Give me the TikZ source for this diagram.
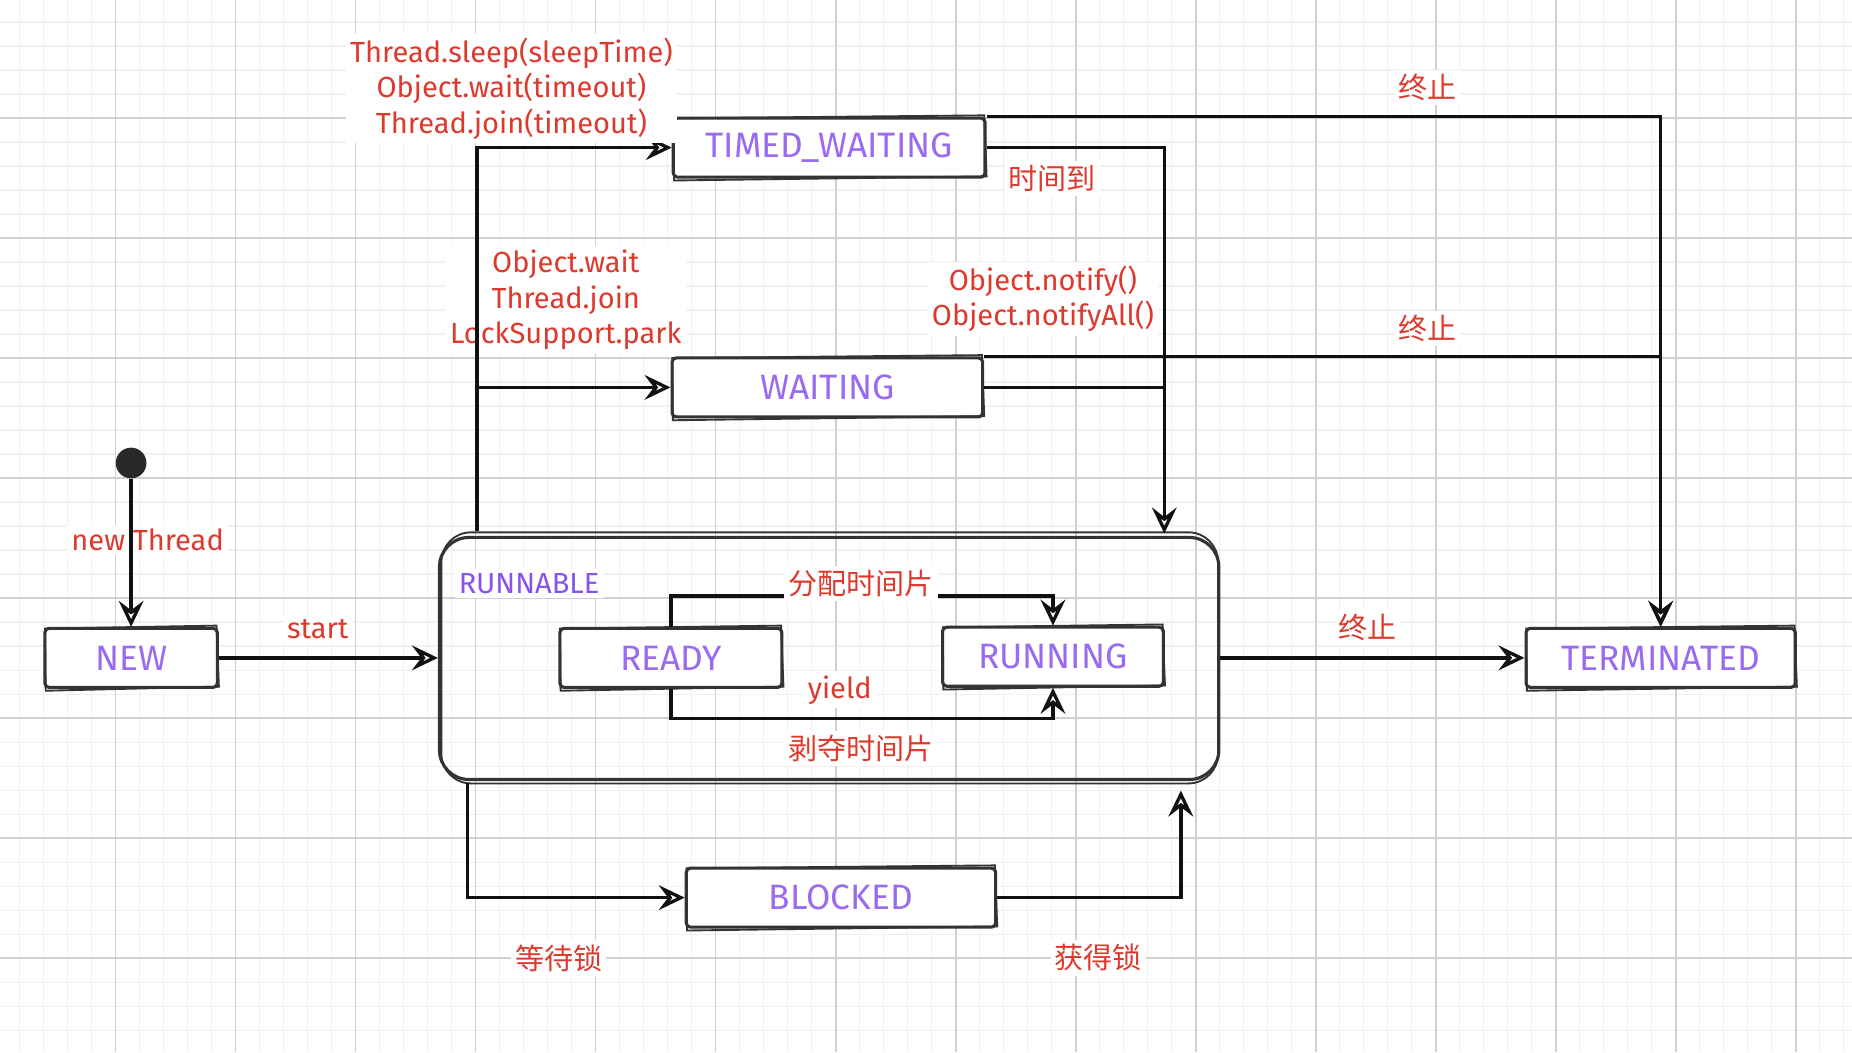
\documentclass[tikz,border=0pt]{standalone}
\usepackage{fontspec}
\setmainfont{Fira Sans}
\newfontfamily\cjk{Noto Sans CJK SC}
\usetikzlibrary{arrows.meta,calc}
\definecolor{redt}{HTML}{DD3A2E}
\definecolor{purp}{HTML}{9A6BF0}
\definecolor{purpd}{HTML}{8752EE}
\definecolor{boxc}{HTML}{333333}
\definecolor{linec}{HTML}{111111}
\definecolor{minorg}{HTML}{F0F0F0}
\definecolor{majorg}{HTML}{D0D0D0}
\newcommand\skbox[1]{\draw[sk] ($(#1.north west)+(1.5,1.5)$) -- ($(#1.north east)+(-2,-1)$) -- ($(#1.south east)+(0,-2)$) -- ($(#1.south west)+(2,1.5)$) -- cycle;}
\begin{document}
\begin{tikzpicture}[x=0.02cm,y=-0.02cm,
  box/.style={draw=boxc, line width=1.5pt, fill=white, inner sep=0pt, minimum height=1cm, text=purp, font=\fontsize{17}{19}\selectfont, rounded corners=2pt},
  lbl/.style={text=redt, fill=white, inner sep=2pt, align=center, font=\fontsize{14}{17}\selectfont},
  zh/.style={text=redt, fill=white, inner sep=2pt, font=\cjk\fontsize{14}{17}\selectfont},
  conn/.style={draw=linec, line width=1.7pt},
  arr/.style={conn, -{Stealth[open,length=4.4mm,width=4.2mm,inset=1.6mm,line width=1.6pt]}},
  sk/.style={draw=boxc, line width=0.9pt},
  gminor/.style={draw=minorg, line width=0.6pt},
  gmajor/.style={draw=majorg, line width=0.7pt}
]
\fill[white] (0,0) rectangle (1568,891);
\useasboundingbox (0,0) rectangle (1568,891);
% grid
\foreach \i in {0,...,78} {\draw[gminor] ({-3.6+20.32*\i},0) -- ({-3.6+20.32*\i},891);}
\foreach \i in {0,...,44} {\draw[gminor] (0,{-1.6+20.32*\i}) -- (1568,{-1.6+20.32*\i});}
\foreach \i in {0,...,16} {\draw[gmajor] ({-3.6+101.6*\i},0) -- ({-3.6+101.6*\i},891);}
\foreach \i in {0,...,9} {\draw[gmajor] (0,{-1.6+101.6*\i}) -- (1568,{-1.6+101.6*\i});}

% RUNNABLE container
\node[draw=boxc, line width=1.5pt, rounded corners=0.5cm, minimum width=13.2cm, minimum height=4.1cm, inner sep=0pt] (run) at (702,557.5) {};
\draw[sk, rounded corners=0.5cm] ($(run.north west)+(3,-3)$) rectangle ($(run.south east)+(-2,2)$);
\node[text=purpd, fill=white, inner sep=2pt, font=\fontsize{14}{16}\selectfont] (runl) at (448,494) {RUNNABLE};

% states
\fill[linec!90] (111,392) circle (13);
\node[circle, minimum size=0.52cm, inner sep=0pt] (dot) at (111,392) {};
\node[box, minimum width=2.92cm] (new) at (111,557) {NEW};
\node[box, minimum width=3.76cm] (ready) at (568,557) {READY};
\node[box, minimum width=3.74cm] (running) at (891.5,556) {RUNNING};
\node[box, minimum width=5.28cm] (tw) at (702,125) {TIMED\_WAITING};
\node[box, minimum width=5.26cm] (w) at (700.5,328) {WAITING};
\node[box, minimum width=4.56cm] (term) at (1406,557) {TERMINATED};
\node[box, minimum width=5.24cm] (blk) at (712,760) {BLOCKED};
\foreach \n in {new,ready,running,tw,w,term,blk} {\skbox{\n}}

% labels lying under lines
\node[lbl] (lnt) at (125,457) {new Thread};
\node[lbl] (l2) at (479,254) {Object.wait\\Thread.join\\LockSupport.park};

% anchor points on the container
\coordinate (rt) at ($(run.north west)+(33,-4)$);
\coordinate (rr) at ($(run.north west)+(615,-2)$);
\coordinate (rb) at ($(run.south west)+(25,2)$);
\coordinate (rb2) at ($(run.south west)+(629,8)$);

% connectors
\draw[arr] (dot) -- (new.north);
\draw[arr] (new.east) -- (new.east -| run.west);
\draw[arr] (rt) |- (tw.west);
\draw[arr] (rt) |- (w.west);
\draw[arr] (tw.east) -| (rr);
\draw[conn] (w.east) -- (w.east -| rr);
\draw[arr] (tw.north east) -| (term.north);
\draw[arr] (w.north east) -| (term.north);
\draw[arr] (run.east |- term.west) -- (term.west);
\draw[arr] (ready.north) -- ++(0,-26) -| (running.north);
\draw[arr] (ready.south) -- ++(0,25) -| (running.south);
\draw[arr] (rb) |- (blk.west);
\draw[arr] (blk.east) -| (rb2);

% labels
\node[lbl] (l1) at (433,75) {Thread.sleep(sleepTime)\\Object.wait(timeout)\\Thread.join(timeout)};
\node[lbl] (l3) at (883,253) {Object.notify()\\Object.notifyAll()};
\node[lbl] (lst) at (269,533) {start};
\node[lbl] (lyd) at (711,584) {yield};
\node[zh] (z1) at (1209,74) {终止};
\node[zh] (z2) at (1209,278) {终止};
\node[zh] (z3) at (1158,531) {终止};
\node[zh] (zt) at (891,151) {时间到};
\node[zh] (zf) at (729,494) {分配时间片};
\node[zh] (zb) at (729,634) {剥夺时间片};
\node[zh] (zw) at (473,811) {等待锁};
\node[zh] (zh2) at (930,811) {获得锁};
\end{tikzpicture}
\end{document}
